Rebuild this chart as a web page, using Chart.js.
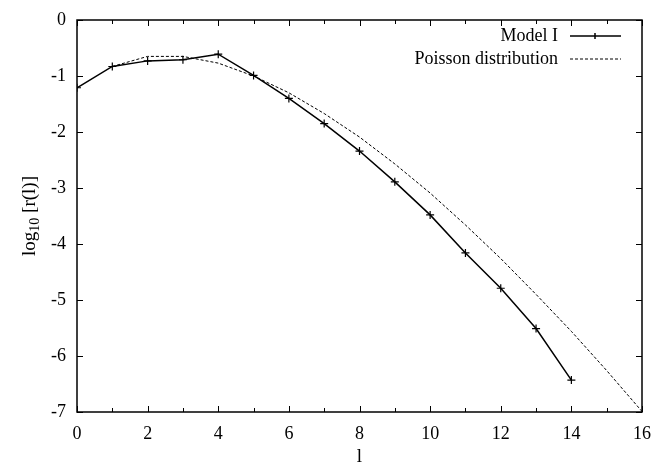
<!DOCTYPE html>
<html>
<head>
<meta charset="utf-8">
<script src="https://cdn.jsdelivr.net/npm/chart.js@4"></script>
<style>
  html, body { margin: 0; padding: 0; background: #fff; overflow: hidden; }
  #wrap { width: 652px; height: 464px; position: relative; }
  canvas { display: block; }
</style>
</head>
<body>
<div id="wrap"><canvas id="grafica"></canvas></div>
<script>
// valores
const l_modelo = [0, 1, 2, 3, 4, 5, 6, 7, 8, 9, 10, 11, 12, 13, 14];
const r_modelo = [-1.21, -0.83, -0.73, -0.71, -0.61, -0.99, -1.40, -1.85, -2.34, -2.89, -3.48, -4.16, -4.79, -5.51, -6.43];
const l_poisson = [1, 2, 3, 4, 5, 6, 7, 8, 9, 10, 11, 12, 13, 14, 15, 16];
const r_poisson = [-0.83, -0.65, -0.65, -0.77, -1.0, -1.30, -1.67, -2.09, -2.57, -3.09, -3.66, -4.26, -4.90, -5.56, -6.26, -6.99];
const etiquetas = ['Model I', 'Poisson distribution'];

const fuente = '"Liberation Serif", "DejaVu Serif", serif';

// marco, ticks hacia dentro, leyenda y titulos de ejes
const estiloGnuplot = {
  id: 'estiloGnuplot',
  afterDraw(chart) {
    const { ctx, chartArea: a, scales: { x, y } } = chart;
    ctx.save();
    ctx.strokeStyle = '#000';
    ctx.lineWidth = 1.5;
    ctx.strokeRect(a.left, a.top, a.right - a.left, a.bottom - a.top);

    ctx.lineWidth = 1;
    ctx.beginPath();
    for (let v = 0; v <= 16; v++) {
      const px = Math.round(x.getPixelForValue(v)) + 0.5;
      const len = v % 2 === 0 ? 6 : 4;
      ctx.moveTo(px, a.bottom); ctx.lineTo(px, a.bottom - len);
      ctx.moveTo(px, a.top); ctx.lineTo(px, a.top + len);
    }
    for (let v = -7; v <= 0; v++) {
      const py = Math.round(y.getPixelForValue(v)) + 0.5;
      ctx.moveTo(a.left, py); ctx.lineTo(a.left + 6, py);
      ctx.moveTo(a.right, py); ctx.lineTo(a.right - 6, py);
    }
    ctx.stroke();

    // leyenda
    ctx.fillStyle = '#000';
    ctx.font = '18px ' + fuente;
    ctx.textAlign = 'right';
    ctx.textBaseline = 'middle';
    const filas = [36, 59];
    ctx.fillText(etiquetas[0], 558, filas[0]);
    ctx.fillText(etiquetas[1], 558, filas[1]);
    ctx.lineWidth = 1.5;
    ctx.beginPath();
    ctx.moveTo(570, filas[0]); ctx.lineTo(621, filas[0]);
    ctx.moveTo(595, filas[0] - 3); ctx.lineTo(595, filas[0] + 3);
    ctx.stroke();
    ctx.lineWidth = 1;
    ctx.setLineDash([3, 2]);
    ctx.beginPath();
    ctx.moveTo(570, filas[1]); ctx.lineTo(621, filas[1]);
    ctx.stroke();
    ctx.setLineDash([]);

    // titulo eje x
    ctx.textAlign = 'center';
    ctx.font = '19px ' + fuente;
    ctx.fillText('l', (a.left + a.right) / 2, 457);

    // titulo eje y con subindice
    ctx.translate(30, (a.top + a.bottom) / 2);
    ctx.rotate(-Math.PI / 2);
    ctx.textAlign = 'left';
    const p1 = 'log', p2 = '10', p3 = ' [r(l)]';
    ctx.font = '19px ' + fuente;
    const w1 = ctx.measureText(p1).width, w3 = ctx.measureText(p3).width;
    ctx.font = '14px ' + fuente;
    const w2 = ctx.measureText(p2).width;
    let cx = -(w1 + w2 + w3) / 2;
    ctx.font = '19px ' + fuente;
    ctx.fillText(p1, cx, 0); cx += w1;
    ctx.font = '14px ' + fuente;
    ctx.fillText(p2, cx, 5); cx += w2;
    ctx.font = '19px ' + fuente;
    ctx.fillText(p3, cx, 0);
    ctx.restore();
  }
};

const ctx = document.getElementById('grafica').getContext('2d');

new Chart(ctx, {
  type: 'line',
  data: {
    datasets: [
      {
        label: etiquetas[0],
        data: l_modelo.map((v, i) => ({ x: v, y: r_modelo[i] })),
        borderColor: '#000',
        backgroundColor: '#000',
        borderWidth: 1.5,
        pointStyle: 'cross',
        pointRadius: 4,
        pointBorderWidth: 1.2,
        pointBorderColor: '#000',
        tension: 0
      },
      {
        label: etiquetas[1],
        data: l_poisson.map((v, i) => ({ x: v, y: r_poisson[i] })),
        borderColor: '#000',
        borderWidth: 1,
        borderDash: [3, 2],
        pointRadius: 0,
        tension: 0
      }
    ]
  },
  options: {
    responsive: true,
    maintainAspectRatio: false,
    animation: false,
    layout: { padding: { left: 0, right: 10, top: 20, bottom: 0 } },
    plugins: {
      legend: { display: false },
      tooltip: { enabled: false }
    },
    scales: {
      x: {
        type: 'linear',
        min: 0,
        max: 16,
        grid: { display: false, drawTicks: false },
        border: { display: false },
        ticks: { stepSize: 2, padding: 11, color: '#000', font: { family: fuente, size: 18 } },
        afterFit: s => { s.height = 52; s.paddingLeft = 0; s.paddingRight = 0; }
      },
      y: {
        min: -7,
        max: 0,
        grid: { display: false, drawTicks: false },
        border: { display: false },
        ticks: { stepSize: 1, padding: 11, color: '#000', font: { family: fuente, size: 18 } },
        afterFit: s => { s.width = 77; s.paddingTop = 0; s.paddingBottom = 0; }
      }
    }
  },
  plugins: [estiloGnuplot]
});
</script>
</body>
</html>
